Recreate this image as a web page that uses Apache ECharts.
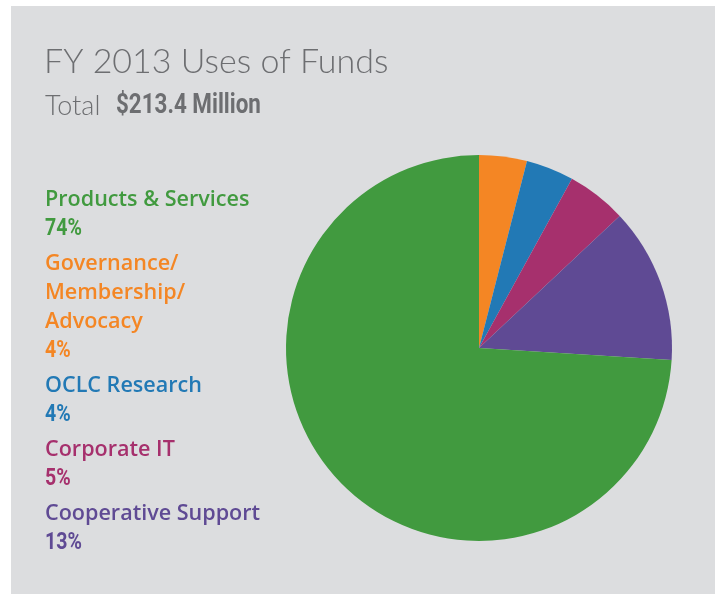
<!DOCTYPE html>
<html>
<head>
<meta charset="utf-8">
<script src="https://cdn.jsdelivr.net/npm/echarts@6/dist/echarts.min.js"></script>
<style>
html,body{margin:0;padding:0;background:#ffffff;}
#chart{width:715px;height:594px;}
</style>
</head>
<body>
<div id="chart"></div>
<script>
// Data (legend order)
var categories = ['Products & Services', 'Governance/\nMembership/\nAdvocacy', 'OCLC Research', 'Corporate IT', 'Cooperative Support'];
var values = [74, 4, 4, 5, 13];
var colors = ['#419a3f', '#f48624', '#2279b5', '#a6306d', '#5f4a94'];
// Pie drawing order, clockwise from 12 o'clock
var pieOrder = [1, 2, 3, 4, 0];
var titleText = 'FY 2013 Uses of Funds';
var subLabel = 'Total';
var subValue = '$213.4 Million';

var chart = echarts.init(document.getElementById('chart'), null, {renderer: 'canvas'});

function txt(x, y, text, font, fill, sx) {
  return {type: 'text', x: x, y: y, scaleX: sx || 1,
    style: {text: text, x: 0, y: 0, font: font, fill: fill, align: 'left', verticalAlign: 'middle'}};
}

var graphics = [
  {type: 'rect', shape: {x: 11, y: 6, width: 704, height: 588}, style: {fill: '#dcdddf'}, z: -10},
  txt(44, 62, titleText, '300 34px Lato, "Open Sans", sans-serif', '#6d6e71'),
  txt(45, 106, subLabel, '300 27px Lato, "Open Sans", sans-serif', '#6d6e71'),
  txt(116, 106, subValue, 'bold 27px Roboto, sans-serif', '#6d6e71', 0.83)
];

var y = 200;
for (var i = 0; i < categories.length; i++) {
  var lines = categories[i].split('\n');
  for (var j = 0; j < lines.length; j++) {
    graphics.push(txt(45, y, lines[j], '600 22px "Open Sans", sans-serif', colors[i], 0.98));
    y += 29;
  }
  graphics.push(txt(45, y, values[i] + '%', 'bold 23px Roboto, sans-serif', colors[i], 0.85));
  y += 35;
}

var pieData = pieOrder.map(function (k) {
  return {name: categories[k], value: values[k], itemStyle: {color: colors[k]}};
});

chart.setOption({
  animation: false,
  backgroundColor: '#ffffff',
  graphic: graphics,
  series: [{
    type: 'pie',
    center: [479, 348],
    radius: [0, 193],
    startAngle: 90,
    clockwise: true,
    label: {show: false},
    labelLine: {show: false},
    emphasis: {disabled: true},
    itemStyle: {borderWidth: 0},
    data: pieData
  }]
});
</script>
</body>
</html>
